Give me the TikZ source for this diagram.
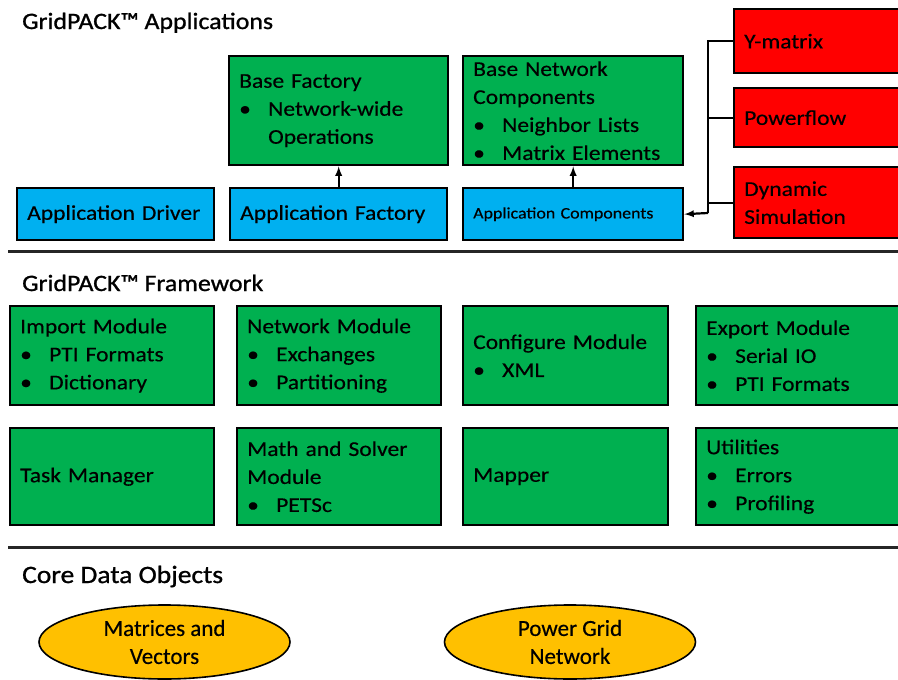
\documentclass[tikz,border=0pt]{standalone}
\usepackage{fontspec}
\setmainfont{Carlito}[FakeBold=0.4]
\newfontfamily\boxfont{Carlito}[FakeStretch=1.12, FakeBold=0.4]
\newfontfamily\headfont{Carlito}[FakeStretch=1.1, FakeBold=1.0]
\usetikzlibrary{shapes.geometric}

\definecolor{gpgreen}{HTML}{00B050}
\definecolor{gpblue}{HTML}{00B0F0}
\definecolor{gpred}{HTML}{FF0000}
\definecolor{gpgold}{HTML}{FFC000}

% bullet item and its continuation line
\newcommand{\itm}[1]{\makebox[29pt][l]{\textbullet}#1}
\newcommand{\cnt}[1]{\hspace*{29pt}#1}

\tikzset{
  blk/.style 2 args={draw, line width=2.4pt, inner xsep=10pt, inner ysep=0pt,
    anchor=north west, align=left, minimum width=#1pt, minimum height=#2pt,
    text width=#1pt-20pt, font=\boxfont\fontsize{21}{28}\selectfont},
  gbox/.style 2 args={blk={#1}{#2}, fill=gpgreen},
  bbox/.style 2 args={blk={#1}{#2}, fill=gpblue},
  rbox/.style 2 args={blk={#1}{#2}, fill=gpred},
  blob/.style={ellipse, draw, line width=1.6pt, fill=gpgold, inner sep=0pt,
    minimum width=251pt, minimum height=74pt, align=center,
    font=\fontsize{23}{28}\selectfont},
  head/.style={anchor=base west, inner sep=0pt},
  sep/.style={line width=3pt, black!85},
  link/.style={line width=2.2pt, -latex}
}

\begin{document}
\begin{tikzpicture}[x=1pt, y=-1pt]
  \useasboundingbox (0,0) rectangle (898,680);

  % applications layer
  \node[head, font=\headfont\fontsize{23.5}{28}\selectfont] (tapp) at (22,29) {GridPACK™ Applications};
  \node[gbox={219}{109}] (bfac) at (228,55) {Base Factory\\\itm{Network-wide}\\\cnt{Operations}};
  \node[gbox={220}{109}] (bnet) at (462,55) {Base Network\\Components\\\itm{Neighbor Lists}\\\itm{Matrix Elements}};
  \node[bbox={197}{52}] (drv) at (16,187) {Application Driver};
  \node[bbox={217}{52}] (afac) at (229,187) {Application Factory};
  \node[bbox={220}{52}, font=\boxfont\fontsize{16}{20}\selectfont] (acomp) at (462,187) {Application Components};
  \node[rbox={167}{64}] (ymat) at (733,8) {Y-matrix};
  \node[rbox={167}{59}] (pflow) at (733,87) {Powerflow};
  \node[rbox={167}{71}] (dyn) at (733,166) {Dynamic\\Simulation};
  \coordinate (bus) at (708,213);

  \draw[link] (afac) -- (bfac);
  \draw[link] (acomp) -- (bnet);
  \begin{scope}[line width=2.2pt]
    \draw (ymat.west) -| (bus);
    \draw (pflow.west) -- (pflow.west -| bus);
    \draw (dyn.west) -- (dyn.west -| bus);
  \end{scope}
  \draw[link] (bus) -- (acomp.east);

  \draw[sep] (8,251) -- (898,251);

  % framework layer
  \node[head, font=\headfont\fontsize{23.5}{28}\selectfont] (tfw) at (22,291) {GridPACK™ Framework};
  \node[gbox={204}{99}] (imp) at (9,305) {Import Module\\\itm{PTI Formats}\\\itm{Dictionary}};
  \node[gbox={204}{99}] (netm) at (236,305) {Network Module\\\itm{Exchanges}\\\itm{Partitioning}};
  \node[gbox={205}{99}] (conf) at (462,305) {Configure Module\\\itm{XML}};
  \node[gbox={205}{99}] (expm) at (695,305) {Export Module\\\itm{Serial IO}\\\itm{PTI Formats}};
  \node[gbox={204}{97}] (task) at (9,427) {Task Manager};
  \node[gbox={204}{97}] (math) at (236,427) {Math and Solver\\Module\\\itm{PETSc}};
  \node[gbox={205}{97}] (mapr) at (462,427) {Mapper};
  \node[gbox={205}{97}] (util) at (695,427) {Utilities\\\itm{Errors}\\\itm{Profiling}};

  \draw[sep] (8,547) -- (898,547);

  % core data objects
  \node[head, font=\headfont\fontsize{25}{28}\selectfont] (tcore) at (22,583) {Core Data Objects};
  \node[blob] (matv) at (164.5,642) {Matrices and\\Vectors};
  \node[blob] (grid) at (570,642) {Power Grid\\Network};
\end{tikzpicture}
\end{document}
